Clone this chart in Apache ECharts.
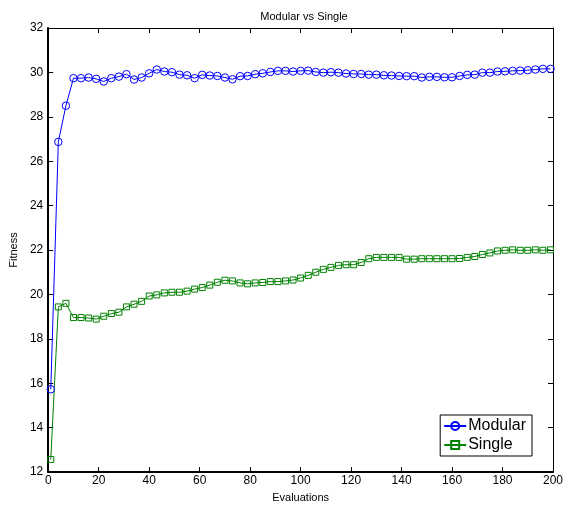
<!DOCTYPE html>
<html>
<head>
<meta charset="utf-8">
<script src="https://cdn.jsdelivr.net/npm/echarts@6/dist/echarts.min.js"></script>
<style>
  html, body { margin: 0; padding: 0; background: #fff; }
  #chart { width: 567px; height: 508px; }
</style>
</head>
<body>
<div id="chart"></div>
<script>
var evaluations = [1, 4, 7, 10, 13, 16, 19, 22, 25, 28, 31, 34, 37, 40, 43, 46, 49, 52, 55, 58,
    61, 64, 67, 70, 73, 76, 79, 82, 85, 88, 91, 94, 97, 100, 103, 106, 109, 112, 115, 118,
    121, 124, 127, 130, 133, 136, 139, 142, 145, 148, 151, 154, 157, 160, 163, 166, 169, 172, 175, 178,
    181, 184, 187, 190, 193, 196, 199];

var modular = [15.73, 26.87, 28.5, 29.74, 29.74, 29.77, 29.71, 29.59, 29.74, 29.81,
    29.92, 29.68, 29.77, 29.96, 30.13, 30.04, 30.01, 29.9, 29.87, 29.74,
    29.89, 29.86, 29.84, 29.77, 29.69, 29.83, 29.84, 29.92, 29.96, 30.02,
    30.07, 30.07, 30.04, 30.07, 30.08, 30.02, 29.99, 30.01, 29.99, 29.95,
    29.93, 29.93, 29.9, 29.9, 29.87, 29.86, 29.84, 29.83, 29.83, 29.77,
    29.8, 29.8, 29.78, 29.78, 29.84, 29.89, 29.9, 29.99, 29.99, 30.04,
    30.05, 30.07, 30.08, 30.1, 30.13, 30.16, 30.16];

var single = [12.57, 19.44, 19.6, 18.96, 18.96, 18.94, 18.89, 19.02, 19.14, 19.2,
    19.44, 19.56, 19.69, 19.93, 19.98, 20.07, 20.1, 20.1, 20.15, 20.24,
    20.31, 20.42, 20.55, 20.64, 20.61, 20.52, 20.48, 20.52, 20.54, 20.58,
    20.58, 20.61, 20.65, 20.74, 20.86, 21.0, 21.13, 21.22, 21.31, 21.34,
    21.34, 21.44, 21.61, 21.67, 21.67, 21.67, 21.67, 21.59, 21.59, 21.61,
    21.61, 21.61, 21.61, 21.61, 21.62, 21.67, 21.71, 21.8, 21.87, 21.96,
    21.99, 22.01, 21.99, 21.99, 22.01, 21.99, 22.01];

var font = 'Liberation Sans, Arial, Helvetica, sans-serif';

function pairs(ys) {
    return ys.map(function (v, i) { return [evaluations[i], v]; });
}

var tickStyle = { show: true, inside: true, length: 5, lineStyle: { color: '#000', width: 1 } };

var option = {
    animation: false,
    backgroundColor: '#fff',
    title: {
        text: 'Modular vs Single',
        left: 299,
        top: 6,
        textAlign: 'center',
        textStyle: { fontFamily: font, fontSize: 11, fontWeight: 'normal', color: '#000' }
    },
    legend: {
        orient: 'vertical',
        right: 35,
        top: 415,
        padding: [3, 6, 3, 3],
        itemGap: 3,
        itemWidth: 22,
        itemHeight: 10,
        borderColor: '#000',
        borderWidth: 1,
        backgroundColor: '#fff',
        borderRadius: 0,
        textStyle: { fontFamily: font, fontSize: 16, color: '#000', padding: [0, 0, 0, -3] },
        data: ['Modular', 'Single']
    },
    grid: { left: 46, right: 14, top: 28, bottom: 31 },
    xAxis: [{
        type: 'value',
        min: 0, max: 200, interval: 20,
        name: 'Evaluations',
        nameLocation: 'middle',
        nameGap: 18,
        nameTextStyle: { fontFamily: font, fontSize: 11, color: '#000' },
        axisLine: { onZero: false, lineStyle: { color: '#000', width: 2 } },
        axisTick: tickStyle,
        axisLabel: { fontFamily: font, fontSize: 12, color: '#000', margin: 3 },
        splitLine: { show: false }
    }, {
        type: 'value',
        position: 'top',
        min: 0, max: 200, interval: 20,
        axisLine: { onZero: false, lineStyle: { color: '#000', width: 1 } },
        axisTick: tickStyle,
        axisLabel: { show: false },
        splitLine: { show: false }
    }],
    yAxis: [{
        type: 'value',
        min: 12, max: 32, interval: 2,
        name: 'Fitness',
        nameLocation: 'middle',
        nameGap: 24,
        nameTextStyle: { fontFamily: font, fontSize: 11, color: '#000' },
        axisLine: { show: true, onZero: false, lineStyle: { color: '#000', width: 2 } },
        axisTick: tickStyle,
        axisLabel: { fontFamily: font, fontSize: 12, color: '#000', margin: 5 },
        splitLine: { show: false }
    }, {
        type: 'value',
        position: 'right',
        min: 12, max: 32, interval: 2,
        axisLine: { show: true, onZero: false, lineStyle: { color: '#000', width: 1 } },
        axisTick: tickStyle,
        axisLabel: { show: false },
        splitLine: { show: false }
    }],
    series: [{
        name: 'Modular',
        type: 'line',
        data: pairs(modular),
        symbol: 'circle',
        symbolSize: 7.5,
        color: '#0000ff',
        lineStyle: { width: 1, color: '#0000ff' },
        itemStyle: { color: 'rgba(255,255,255,0)', borderColor: '#0000ff', borderWidth: 1 }
    }, {
        name: 'Single',
        type: 'line',
        data: pairs(single),
        symbol: 'rect',
        symbolSize: 6,
        color: '#008000',
        lineStyle: { width: 1, color: '#008000' },
        itemStyle: { color: 'rgba(255,255,255,0)', borderColor: '#008000', borderWidth: 1 }
    }]
};

var myChart = echarts.init(document.getElementById('chart'));
myChart.setOption(option);
</script>
</body>
</html>
